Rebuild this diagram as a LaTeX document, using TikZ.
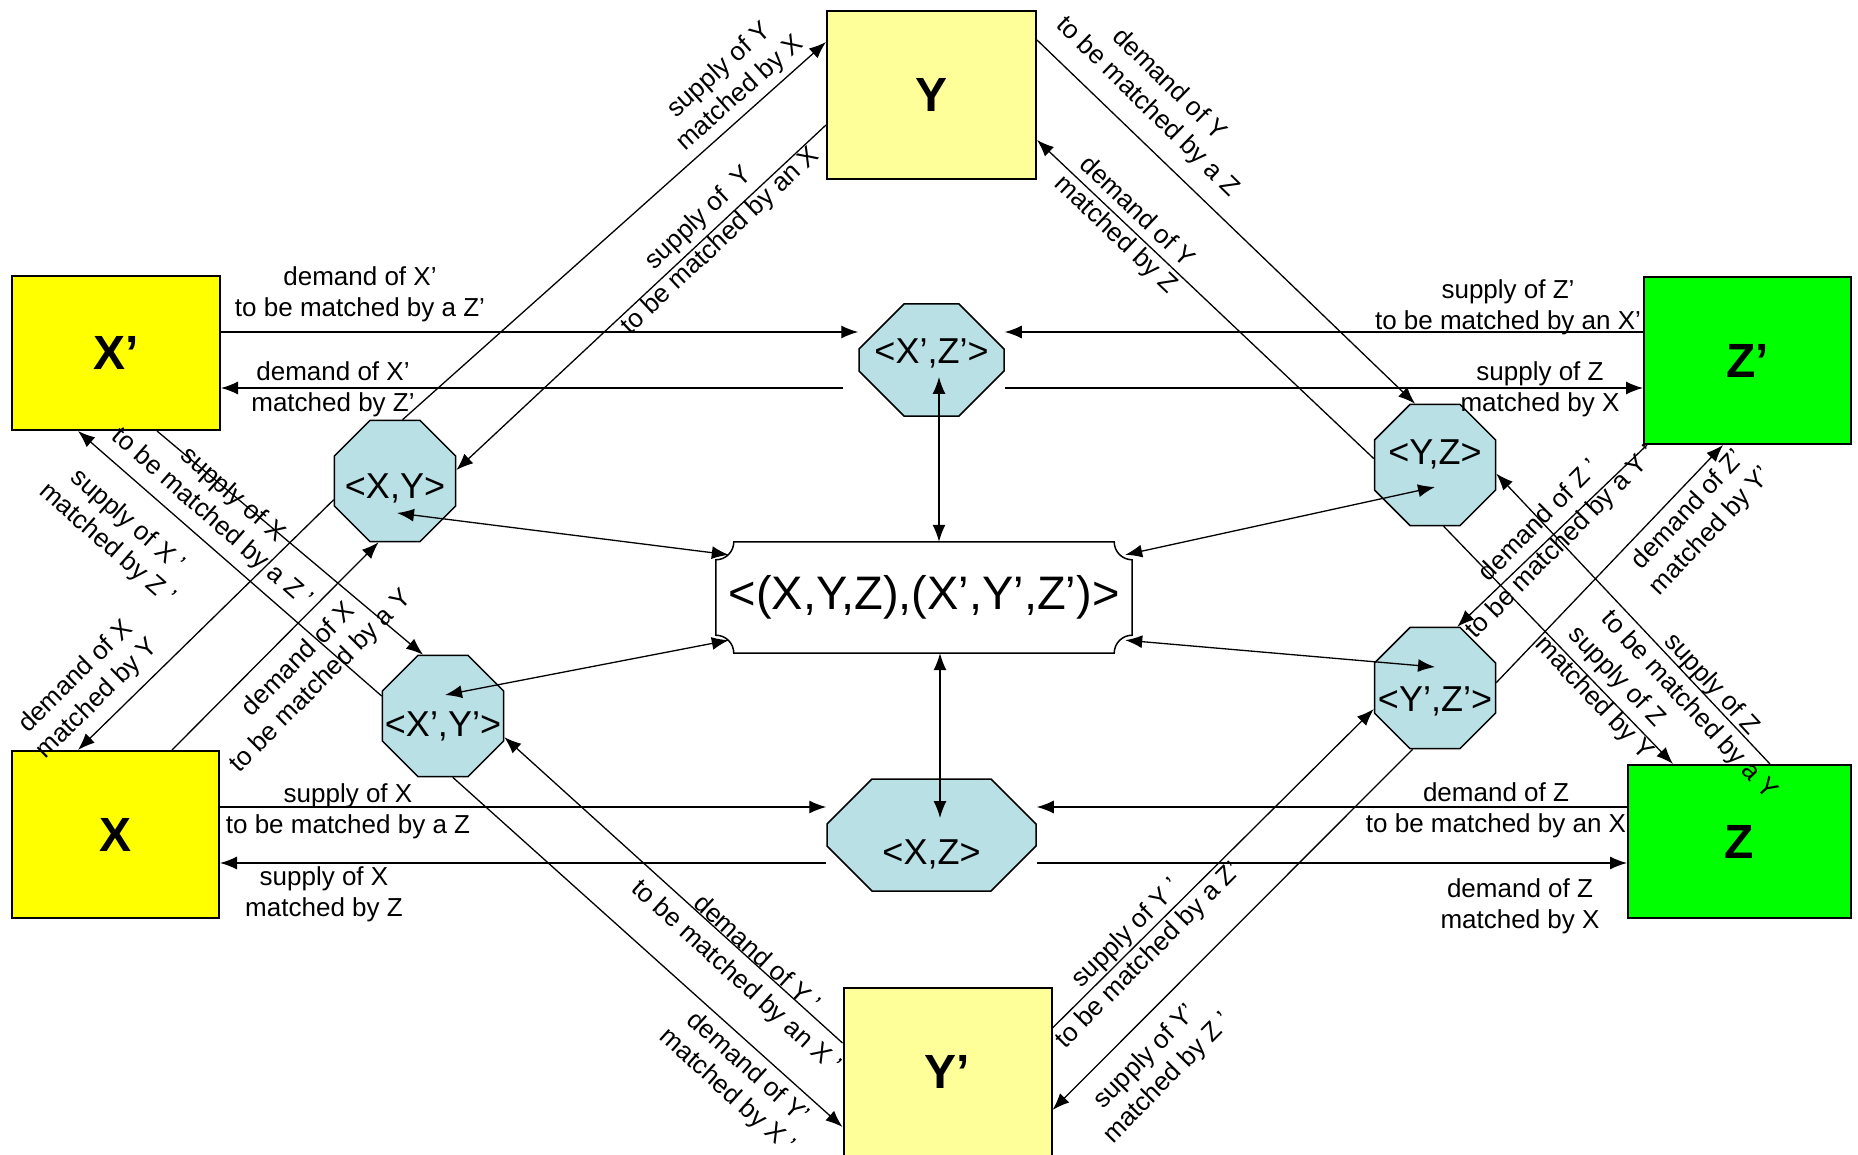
\documentclass[tikz,border=0pt]{standalone}
\usepackage{fontspec}
\setmainfont{Liberation Sans}
\usepackage{tikz}
\usetikzlibrary{arrows.meta}
\usetikzlibrary{shapes.misc}
\usetikzlibrary{shapes.geometric}
\definecolor{agentyellow}{HTML}{FFFF00}
\definecolor{agentpale}{HTML}{FFFF99}
\definecolor{agentgreen}{HTML}{00FF00}
\definecolor{pairblue}{HTML}{B9E0E4}
\newcommand{\pairlbl}[2]{\makebox[60pt]{\raisebox{#1}[26pt][4pt]{#2}}}
\tikzstyle{every node}+=[inner sep=0pt]
\tikzstyle{agent} = [rectangle, draw, line width=2pt, font=\fontsize{48}{56}\selectfont\bfseries]
\tikzstyle{pair} = [regular polygon, regular polygon sides=8, draw, fill=pairblue, line width=1.5pt, font=\fontsize{36}{42}\selectfont, minimum size=131pt]
\tikzstyle{widepair} = [chamfered rectangle, draw, fill=pairblue, line width=1.5pt, font=\fontsize{36}{42}\selectfont, minimum height=112pt]
\tikzstyle{whole} = [rectangle, font=\fontsize{47}{56}\selectfont, minimum width=416pt, minimum height=111pt]
\tikzstyle{line} = [draw, line width=1.3pt, -{Latex[length=17pt,width=13pt]}]
\tikzstyle{both} = [draw, line width=1.3pt, {Latex[length=17pt,width=13pt]}-{Latex[length=17pt,width=13pt]}]
\tikzstyle{value} = [font=\fontsize{26}{31}\selectfont, align=center]

\begin{document}
\begin{tikzpicture}[x=1pt, y=-1pt]
  \useasboundingbox (0,0) rectangle (1858,1155);
  % Place nodes
  \node [agent, fill=agentyellow, minimum width=208pt, minimum height=154pt] (Xp) at (116,353) {X’};
  \node [agent, fill=agentpale, minimum width=209pt, minimum height=168pt] (Y) at (931.5,95) {Y};
  \node [agent, fill=agentgreen, minimum width=207pt, minimum height=167pt] (Zp) at (1747.5,360.5) {Z’};
  \node [agent, fill=agentyellow, minimum width=207pt, minimum height=167pt] (X) at (115.5,834.5) {X};
  \node [agent, fill=agentgreen, minimum width=223pt, minimum height=153pt] (Z) at (1739.5,841.5) {Z};
  \node [agent, fill=agentpale, minimum width=208pt, minimum height=168pt] (Yp) at (947.5,1072) {Y’};
  \node [pair] (XY) at (395,481) {\pairlbl{-6pt}{<X,Y>}};
  \node [pair] (XpYp) at (443,716) {\pairlbl{-9pt}{<X’,Y’>}};
  \node [pair] (YZ) at (1435,465) {\pairlbl{12pt}{<Y,Z>}};
  \node [pair] (YpZp) at (1435,688) {\pairlbl{-12pt}{<Y’,Z’>}};
  \node [widepair, minimum width=145pt, chamfered rectangle xsep=32pt, chamfered rectangle ysep=32pt] (XpZp) at (931.5,360) {\pairlbl{7pt}{<X’,Z’>}};
  \node [widepair, minimum width=209pt, chamfered rectangle xsep=30pt, chamfered rectangle ysep=30pt] (XZ) at (931.5,835) {\pairlbl{-18pt}{<X,Z>}};
  \node [whole] (mid) at (924,597.5) {<(X,Y,Z),(X’,Y’,Z’)>};
  \draw [line width=1.5pt] ([xshift=18pt]mid.north west) -- ([xshift=-18pt]mid.north east)
    arc [start angle=180, end angle=270, radius=18pt] -- ([yshift=18pt]mid.south east)
    arc [start angle=90, end angle=180, radius=18pt] -- ([xshift=18pt]mid.south west)
    arc [start angle=0, end angle=90, radius=18pt] -- ([yshift=-18pt]mid.north west)
    arc [start angle=270, end angle=360, radius=18pt] -- cycle;
  % Draw edges
  \path [line] ([yshift=21pt]Xp.east) -- ([yshift=28pt]XpZp.west);
  \path [line] ([shift={(-15pt,-28pt)}]XpZp.west) -- ([yshift=-35pt]Xp.east);
  \path [line] ([yshift=28.5pt]Zp.west) -- ([yshift=28pt]XpZp.east);
  \path [line] ([yshift=-28pt]XpZp.east) -- ([yshift=-27.5pt]Zp.west);
  \path [line] ([yshift=27.5pt]X.east) -- ([yshift=28pt]XZ.west);
  \path [line] ([yshift=-28pt]XZ.west) -- ([yshift=-28.5pt]X.east);
  \path [line] ([yshift=34.5pt]Z.west) -- ([yshift=28pt]XZ.east);
  \path [line] ([yshift=-28pt]XZ.east) -- ([yshift=-21.5pt]Z.west);
  \path [line] (XY.83) -- ([yshift=53pt]Y.west);
  \path [line] ([yshift=-30pt]Y.west) -- (XY.10);
  \path [line] ([yshift=55pt]Y.east) -- (YZ.108);
  \path [line] (YZ.174) -- ([yshift=-45pt]Y.east);
  \path [line] ([xshift=41pt]Xp.south) -- (XpYp.108);
  \path [line] (XpYp.162) -- ([xshift=-38pt]Xp.south);
  \path [line] (XY.197) -- ([xshift=-37.5pt]X.north);
  \path [line] ([xshift=56.5pt]X.north) -- (XY.255);
  \path [line] (XpYp.279) -- ([yshift=-55pt]Yp.west);
  \path [line] ([yshift=29pt]Yp.west) -- (XpYp.341);
  \path [line] ([yshift=44pt]Yp.east) -- (YpZp.199);
  \path [line] (YpZp.250) -- ([yshift=-38pt]Yp.east);
  \path [line] (YZ.278) -- ([xshift=-66.5pt]Z.north);
  \path [line] ([xshift=30.5pt]Z.north) -- (YZ.352);
  \path [line] ([xshift=-100.5pt]Zp.south) -- (YpZp.70);
  \path [line] (YpZp.5) -- ([xshift=-24.5pt]Zp.south);
  \path [both] ([shift={(2pt,-32pt)}]XY.center) -- ([shift={(13pt,-13pt)}]mid.north west);
  \path [both] ([shift={(2pt,21pt)}]XpYp.center) -- ([shift={(13pt,13pt)}]mid.south west);
  \path [both] ([yshift=-22pt]YZ.center) -- ([shift={(-7pt,-13pt)}]mid.north east);
  \path [both] ([yshift=21pt]YpZp.center) -- ([shift={(-7pt,13pt)}]mid.south east);
  \path [both] ([shift={(7.5pt,-17pt)}]XpZp.center) -- ([xshift=15pt]mid.north);
  \path [both] ([xshift=16pt]mid.south) -- ([shift={(8.5pt,17pt)}]XZ.center);
  % Edge labels
  \node [value] (s1) at (360,294) {demand of X’\\to be matched by a Z’};
  \node [value] (s2) at (333,389) {demand of X’\\matched by Z’};
  \node [value] (s3) at (1508,307) {supply of Z’\\to be matched by an X’};
  \node [value] (s4) at (1540,389) {supply of Z\\matched by X};
  \node [value] (s5) at (348,811) {supply of X\\to be matched by a Z};
  \node [value] (s6) at (324,894) {supply of X\\matched by Z};
  \node [value] (s7) at (1496,810) {demand of Z\\to be matched by an X};
  \node [value] (s8) at (1520,906) {demand of Z\\matched by X};
  \node [value, rotate=41.9] (s9) at (730,82) {supply of Y\\matched by X};
  \node [value, rotate=43.2] (s10) at (710,230) {supply of \ Y\\to be matched by an X};
  \node [value, rotate=-44.4] (s11) at (1158,96) {demand of Y\\to be matched by a Z};
  \node [value, rotate=-43.5] (s12) at (1126,224) {demand of Y\\matched by Z};
  \node [value, rotate=-41.3] (s13) at (222,507) {supply of X\\to be matched by a Z ’};
  \node [value, rotate=-41.2] (s14) at (117,533) {supply of X ’\\matched by Z ’};
  \node [value, rotate=44.4] (s15) at (87,688) {demand of X\\matched by Y};
  \node [value, rotate=45.1] (s16) at (310,671) {demand of X\\to be matched by a Y};
  \node [value, rotate=-42.3] (s17) at (746,966) {demand of Y ’\\to be matched by an X ’};
  \node [value, rotate=-42] (s18) at (737,1080) {demand of Y’\\matched by X ’};
  \node [value, rotate=45] (s19) at (1138,945) {supply of Y ’\\to be matched by a Z’};
  \node [value, rotate=45.5] (s20) at (1157,1068) {supply of Y’\\matched by Z ’};
  \node [value, rotate=-46.3] (s21) at (1605,688) {supply of Z\\matched by Y};
  \node [value, rotate=-47.3] (s22) at (1700,695) {supply of Z\\to be matched by a Y};
  \node [value, rotate=45.3] (s23) at (1551,532) {demand of Z ’\\to be matched by a Y ’};
  \node [value, rotate=46.7] (s24) at (1700,521) {demand of Z’\\matched by Y’};
\end{tikzpicture}
\end{document}
